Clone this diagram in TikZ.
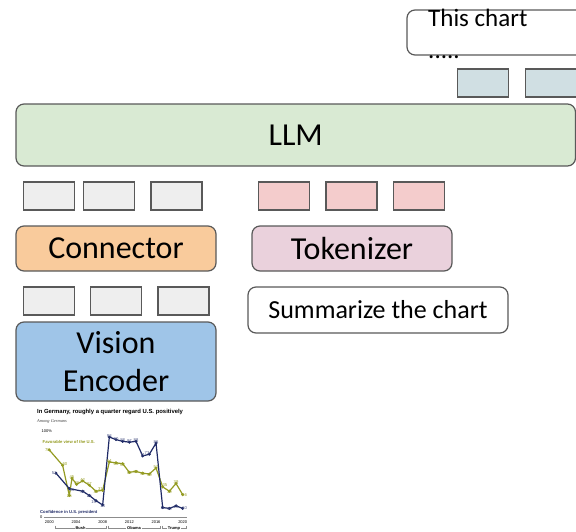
\documentclass[tikz,border=0pt]{standalone}
\usepackage{fontspec}
\setmainfont{Carlito}
\newfontfamily\pewsans{Liberation Sans}
\newfontfamily\pewserif{Liberation Serif}
\usepackage{tikz}
\usetikzlibrary{positioning}
\definecolor{EdgeGray}{HTML}{595959}
\definecolor{LlmGreen}{HTML}{D9EAD3}
\definecolor{ConnOrange}{HTML}{F9CB9C}
\definecolor{TokLilac}{HTML}{EAD1DC}
\definecolor{VisBlue}{HTML}{9FC5E8}
\definecolor{TokGray}{HTML}{EEEEEE}
\definecolor{TokRose}{HTML}{F4CCCC}
\definecolor{TokSlate}{HTML}{D0DFE3}
\definecolor{PewOlive}{HTML}{949B22}
\definecolor{PewNavy}{HTML}{1F2A66}
\definecolor{AxisGray}{HTML}{8C8C8C}
\tikzset{
  % Base block
  BK/.style={rectangle,rounded corners=8pt,draw=EdgeGray,line width=1.2pt,
             minimum width=200pt,minimum height=45pt,inner sep=0pt,
             align=center,font=\fontsize{32}{38}\selectfont},
  % Token cell
  TC/.style={rectangle,draw=EdgeGray,line width=1.1pt,
             minimum width=51pt,minimum height=28pt,inner sep=0pt},
  % Colour variants
  bL/.style={BK,fill=LlmGreen},
  bC/.style={BK,fill=ConnOrange},
  bT/.style={BK,fill=TokLilac},
  bV/.style={BK,fill=VisBlue},
  bW/.style={BK,fill=white,font=\fontsize{26}{32}\selectfont},
  cG/.style={TC,fill=TokGray},
  cR/.style={TC,fill=TokRose},
  cS/.style={TC,fill=TokSlate},
  % Chart styles
  olv/.style={PewOlive,line width=1.2pt,line join=round},
  nvy/.style={PewNavy,line width=1.2pt,line join=round},
  dot/.style={circle,fill=white,draw,line width=0.5pt,inner sep=0pt,minimum size=2.5pt},
  num/.style={font=\pewsans\fontsize{4.2}{4}\selectfont,inner sep=0.8pt},
  txt/.style={anchor=base west,inner sep=0pt}
}
\def\favdata{0/78/east,2/60/south west,3/25/north,3.4/45/south,4.1/38/south,
  5/42/south,6/37/south,7/30/north,8/31/south east,9/64/south,10/63/north,
  11/62/north,12/52/north,13/53/north,14/51/north,15/50/north,16/57/south,
  17/35/south west,18/30/north,19/39/south,20/26/west}
\def\confdata{1/51/east,3/33/north west,5/30/north,6/25/north,7/19/north east,
  8/14/north,9/93/south,10/90/south,11/88/south,12/87/south,13/88/south,
  14/71/south,15/73/south east,16/86/south,17/11/north,18/10/north,
  19/13/north,20/10/west}

\begin{document}
\begin{tikzpicture}[x=1pt,y=-1pt]
  \useasboundingbox (0,0) rectangle (576,531);
  % Output side
  \node[bW,minimum width=190pt] (out) at (502,32.5) {};
  \node[txt,font=\fontsize{25}{30}\selectfont] (outA) at (428,26) {This chart};
  \node[txt,font=\fontsize{25}{30}\selectfont] (outB) at (428,58) {.....};
  \node[cS] (o1) at (483,83) {};
  \node[cS] (o2) at (551,83) {};
  \node[bL,minimum width=559.5pt,minimum height=62pt] (llm) at (295.75,135) {LLM};

  % Visual tokens
  \node[cG] (v1) at (49,196) {};
  \node[cG] (v2) at (109,196) {};
  \node[cG] (v3) at (176.5,196) {};
  % Text tokens
  \node[cR] (t1) at (284,196) {};
  \node[cR] (t2) at (351.5,196) {};
  \node[cR] (t3) at (419,196) {};

  \node[bC] (conn) at (116,248.5) {Connector};
  \node[bT] (tok) at (352,248.5) {Tokenizer};

  \node[cG] (p1) at (49,301) {};
  \node[cG] (p2) at (116,301) {};
  \node[cG] (p3) at (183.5,301) {};
  \node[bW,minimum width=260pt,minimum height=46pt] (prm) at (378,310) {Summarize the chart};
  \node[bV,minimum height=79pt] (enc) at (116,361.5) {Vision\\Encoder};

  % Input chart
  \node[txt,font=\pewsans\bfseries\fontsize{5.9}{6}\selectfont] (ttl) at (37,413.5)
    {In Germany, roughly a quarter regard U.S. positively};
  \node[txt,font=\pewserif\itshape\fontsize{4.4}{5}\selectfont,text=black!75] (sub) at (37,422)
    {Among Germans};
  \node[txt,font=\pewsans\fontsize{4}{4}\selectfont] (pct) at (41.5,432) {100\%};
  \node[txt,font=\pewsans\bfseries\fontsize{4.2}{5}\selectfont,text=PewOlive] (favl) at (42.5,443)
    {Favorable view of the U.S.};
  \node[txt,font=\pewsans\bfseries\fontsize{4.2}{5}\selectfont,text=PewNavy] (confl) at (40,513)
    {Confidence in U.S. president};
  \node[txt,font=\pewsans\fontsize{4}{4}\selectfont] (zero) at (40,518.5) {0};
  \draw[AxisGray,line width=0.4pt] (44,517) -- (187,517);
  \foreach \yr/\xx in {2000/49.3,2004/76,2008/102.7,2012/129.3,2016/156,2020/182.7}
    \node[font=\pewsans\fontsize{4}{4}\selectfont,inner sep=0pt] (yr\yr) at (\xx,522.5) {\yr};
  \foreach \nm/\xa/\xb in {Bush/55/106,Obama/108/160,Trump/162/186}{
    \draw[AxisGray,line width=0.4pt] (\xa,525.5) |- (\xb,528.5) -- (\xb,525.5);
    \node[fill=white,font=\pewsans\bfseries\fontsize{4}{4}\selectfont,inner sep=0.8pt]
      (lb\nm) at ({(\xa+\xb)/2},528.5) {\nm};
  }
  \begin{scope}[shift={(49.3,517)},x=6.67pt,y=0.86pt]
    \draw[olv] (0,78) \foreach \t/\v/\p in \favdata { -- (\t,\v) };
    \draw[nvy] (1,51) \foreach \t/\v/\p in \confdata { -- (\t,\v) };
    \foreach \t/\v/\p [count=\i] in \favdata {
      \node[dot,PewOlive] (fv\i) at (\t,\v) {};
      \node[num,text=PewOlive,anchor=\p] (fl\i) at (fv\i.\p) {\v};
    }
    \foreach \t/\v/\p [count=\i] in \confdata {
      \node[dot,PewNavy] (cv\i) at (\t,\v) {};
      \node[num,text=PewNavy!80,anchor=\p] (cl\i) at (cv\i.\p) {\v};
    }
  \end{scope}
\end{tikzpicture}
\end{document}
